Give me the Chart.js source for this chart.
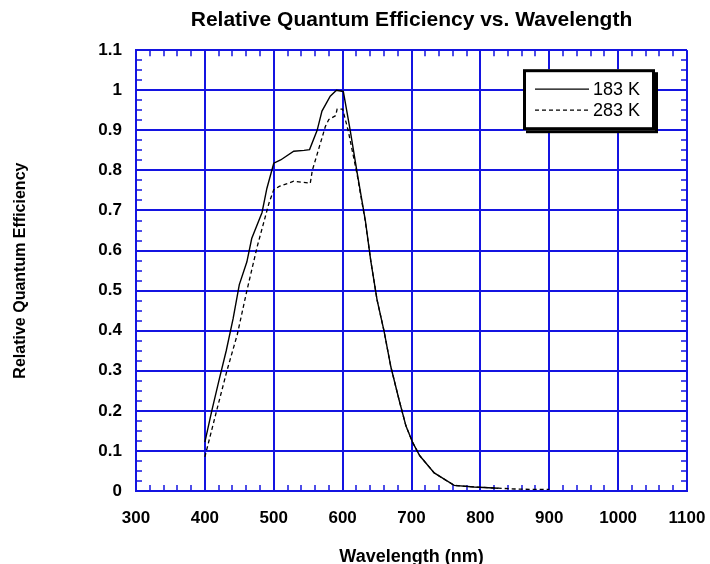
<!DOCTYPE html>
<html>
<head>
<meta charset="utf-8">
<script src="https://cdn.jsdelivr.net/npm/chart.js@4"></script>
<style>
  html, body { margin: 0; padding: 0; background: #fff; }
  canvas { display: block; }
</style>
</head>
<body>
<canvas id="qeChart" width="710" height="564"></canvas>
<script>
// Relative QE curves read at two sensor temperatures
const wl183 = [400, 410, 421, 431, 441, 450, 461, 468, 483, 490, 500, 510, 529, 544, 552, 563, 570, 582, 591, 601,
               611, 621, 633, 641, 650, 660, 670, 682, 692, 702, 712, 733, 762, 791, 826];
const qe183 = [0.122, 0.20, 0.28, 0.35, 0.43, 0.515, 0.572, 0.63, 0.695, 0.755, 0.818, 0.826, 0.848, 0.85, 0.852, 0.90, 0.948, 0.985, 1.0, 0.997,
               0.90, 0.795, 0.675, 0.573, 0.477, 0.40, 0.31, 0.227, 0.162, 0.12, 0.088, 0.045, 0.014, 0.01, 0.007];

const wl283 = [400, 417, 432, 447, 461, 476, 493, 500, 508, 529, 553, 556, 575, 580, 590, 592, 600, 608,
               621, 633, 641, 650, 660, 670, 682, 692, 702, 712, 733, 762, 791, 826, 850, 875, 900];
const qe283 = [0.085, 0.20, 0.30, 0.39, 0.50, 0.61, 0.718, 0.752, 0.76, 0.773, 0.768, 0.80, 0.91, 0.927, 0.937, 0.953, 0.953, 0.90,
               0.79, 0.672, 0.573, 0.477, 0.40, 0.31, 0.227, 0.162, 0.12, 0.088, 0.045, 0.014, 0.01, 0.007, 0.005, 0.004, 0.004];

const seriesLabels = ['183 K', '283 K'];

const FONT = "'Liberation Sans', Arial, Helvetica, sans-serif";
const gridBlue = 'rgb(20, 20, 225)';

const toPoints = (xs, ys) => xs.map((x, i) => ({ x: x, y: ys[i] }));

// small inward ticks on all four sides of the plot frame
const minorTicks = {
  id: 'minorTicks',
  beforeDatasetsDraw(chart) {
    const { ctx, chartArea: a, scales: { x, y } } = chart;
    const len = 6;
    ctx.save();
    ctx.strokeStyle = gridBlue;
    ctx.lineWidth = 1.5;
    ctx.beginPath();
    for (let i = 0; i <= 40; i++) {
      const px = Math.round(x.getPixelForValue(300 + i * 20));
      ctx.moveTo(px, a.bottom); ctx.lineTo(px, a.bottom - len);
      ctx.moveTo(px, a.top); ctx.lineTo(px, a.top + len);
    }
    for (let i = 0; i <= 44; i++) {
      const py = Math.round(y.getPixelForValue(i * 0.025));
      ctx.moveTo(a.left, py); ctx.lineTo(a.left + len, py);
      ctx.moveTo(a.right, py); ctx.lineTo(a.right - len, py);
    }
    ctx.stroke();
    ctx.restore();
  }
};

// boxed legend with a drop shadow, top right of the plot
const boxLegend = {
  id: 'boxLegend',
  afterDraw(chart) {
    const { ctx, chartArea: a } = chart;
    const w = 132, h = 61;
    const bx = a.right - 32 - w, by = a.top + 19;
    ctx.save();
    ctx.fillStyle = '#000';
    ctx.fillRect(bx + 3, by + 3, w, h);
    ctx.fillStyle = '#fff';
    ctx.fillRect(bx, by, w, h);
    ctx.strokeStyle = '#000';
    ctx.lineWidth = 3;
    ctx.strokeRect(bx + 1.5, by + 1.5, w - 3, h - 3);

    ctx.font = '18px ' + FONT;
    ctx.textBaseline = 'middle';
    ctx.fillStyle = '#000';
    chart.data.datasets.forEach((ds, i) => {
      const ly = by + 20 + i * 21;
      ctx.beginPath();
      ctx.lineWidth = 1.3;
      ctx.setLineDash(ds.borderDash || []);
      ctx.moveTo(bx + 12, ly);
      ctx.lineTo(bx + 66, ly);
      ctx.stroke();
      ctx.setLineDash([]);
      ctx.fillText(ds.label, bx + 70, ly + 1);
    });
    ctx.restore();
  }
};

const ctx = document.getElementById('qeChart').getContext('2d');
new Chart(ctx, {
  type: 'line',
  data: {
    datasets: [
      {
        label: seriesLabels[0],
        data: toPoints(wl183, qe183),
        borderColor: '#000',
        borderWidth: 1.4,
        pointRadius: 0,
        tension: 0,
        fill: false
      },
      {
        label: seriesLabels[1],
        data: toPoints(wl283, qe283),
        borderColor: '#000',
        borderWidth: 1.3,
        borderDash: [4, 3],
        pointRadius: 0,
        tension: 0,
        fill: false
      }
    ]
  },
  options: {
    responsive: false,
    animation: false,
    layout: { padding: { left: 0, right: 23, top: 0, bottom: 0 } },
    plugins: {
      legend: { display: false },
      tooltip: { enabled: false },
      title: {
        display: true,
        fullSize: false,
        text: 'Relative Quantum Efficiency vs. Wavelength',
        color: '#000',
        font: { family: FONT, size: 21, weight: 'bold' },
        padding: { top: 8, bottom: 17 }
      }
    },
    scales: {
      x: {
        type: 'linear',
        min: 300,
        max: 1100,
        ticks: {
          stepSize: 100,
          color: '#000',
          padding: 17,
          font: { family: FONT, size: 17, weight: 'bold' },
          callback: v => String(v)
        },
        grid: { color: gridBlue, lineWidth: 2, drawTicks: false },
        border: { color: gridBlue, width: 2 },
        title: {
          display: true,
          text: 'Wavelength (nm)',
          color: '#000',
          font: { family: FONT, size: 18, weight: 'bold', lineHeight: 1 },
          padding: { top: 0, bottom: -2 }
        },
        afterFit(scale) {
          scale.height = 73;
          // the end labels fit inside the layout padding already
          scale.paddingLeft = 0;
          scale.paddingRight = 0;
        }
      },
      y: {
        min: 0,
        max: 1.1,
        ticks: {
          stepSize: 0.1,
          color: '#000',
          padding: 14,
          font: { family: FONT, size: 17, weight: 'bold' },
          callback: v => String(Math.round(v * 10) / 10)
        },
        grid: { color: gridBlue, lineWidth: 2, drawTicks: false },
        border: { color: gridBlue, width: 2 },
        title: {
          display: true,
          text: 'Relative Quantum Efficiency',
          color: '#000',
          font: { family: FONT, size: 16, weight: 'bold', lineHeight: 1.2 },
          padding: { top: 11, bottom: 0 }
        },
        afterFit(scale) { scale.width = 136; }
      }
    }
  },
  plugins: [minorTicks, boxLegend]
});
</script>
</body>
</html>
